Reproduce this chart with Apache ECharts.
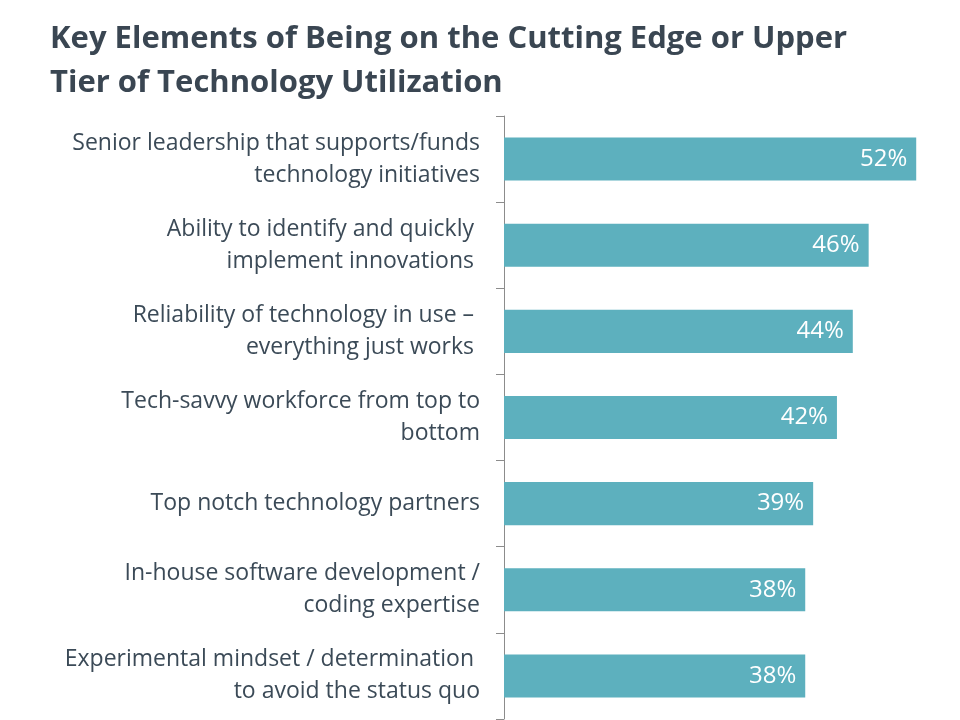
<!DOCTYPE html>
<html><head><meta charset="utf-8">
<script src="https://cdn.jsdelivr.net/npm/echarts@6/dist/echarts.min.js"></script>
<style>html,body{margin:0;padding:0;background:#fff}#c{width:960px;height:720px}</style>
</head><body><div id="c"></div>
<script>
const titleText = "Key Elements of Being on the Cutting Edge or Upper\nTier of Technology Utilization";
const categories = [
  "Senior leadership that supports/funds\ntechnology initiatives",
  "Ability to identify and quickly \nimplement innovations ",
  "Reliability of technology in use – \neverything just works ",
  "Tech-savvy workforce from top to\nbottom",
  "Top notch technology partners",
  "In-house software development /\ncoding expertise",
  "Experimental mindset / determination \nto avoid the status quo"
];
const values = [52, 46, 44, 42, 39, 38, 38];

const chart = echarts.init(document.getElementById('c'), null, {renderer:'canvas'});
chart.setOption({
  animation:false,
  title:{
    text:titleText, left:45, top:12,
    textStyle:{fontFamily:'Open Sans', fontWeight:'bold', fontSize:31, lineHeight:44, color:'#3a4652'}
  },
  grid:{left:504, right:20, top:116, bottom:1, containLabel:false},
  xAxis:{type:'value', min:0, max:55, show:false},
  yAxis:{
    type:'category', data:categories, inverse:true,
    axisLine:{show:true, lineStyle:{color:'#8c8c8c', width:1}},
    axisTick:{show:true, length:8, lineStyle:{color:'#8c8c8c'}},
    axisLabel:{fontFamily:'Open Sans', fontSize:23, lineHeight:32, color:'#3b4a57', margin:24, align:'right'}
  },
  series:[{
    type:'bar', data:values, barCategoryGap:'50%',
    itemStyle:{color:'#5db0be'},
    label:{show:true, position:'insideRight', distance:9, formatter:'{c}%', color:'#ffffff', fontFamily:'Open Sans', fontSize:24}
  }]
});
</script></body></html>
